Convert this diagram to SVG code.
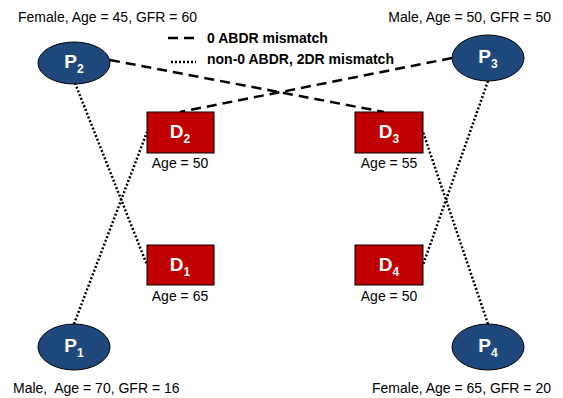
<svg xmlns="http://www.w3.org/2000/svg" width="563" height="398" viewBox="0 0 563 398">
<style>
.pat{fill:#1f497d;stroke:#000;stroke-width:1}
.don{fill:#c00000;stroke:#000;stroke-width:1}
.lbl{font-family:"Liberation Sans",Arial,sans-serif;font-size:19px;font-weight:bold;fill:#fff;text-anchor:middle}
.sub{font-size:12px}
.cap{font-family:"Liberation Sans",Arial,sans-serif;font-size:14px;fill:#000}
.leg{font-family:"Liberation Sans",Arial,sans-serif;font-size:14px;font-weight:bold;fill:#000}
.dash{stroke:#000;stroke-width:2.5;stroke-dasharray:10 6;fill:none}
.dot{stroke:#000;stroke-width:2.5;stroke-dasharray:2 2;fill:none}
</style>
<rect width="563" height="398" fill="#fff"/>
<g id="connectors">
<line class="dash" x1="110" y1="60" x2="384" y2="112"/>
<line class="dash" x1="452" y1="58" x2="180" y2="112"/>
<line class="dot" x1="75" y1="83" x2="147" y2="265"/>
<line class="dot" x1="74" y1="324" x2="147" y2="132"/>
<line class="dot" x1="488" y1="81" x2="423" y2="265"/>
<line class="dot" x1="488" y1="324" x2="423" y2="132"/>
</g>
<g id="legend">
<line class="dash" x1="168" y1="38" x2="194" y2="38"/>
<text class="leg" x="207" y="43">0 ABDR mismatch</text>
<line class="dot" x1="171" y1="62" x2="196" y2="62"/>
<text class="leg" x="207" y="64">non-0 ABDR, 2DR mismatch</text>
</g>
<g id="P2">
<ellipse class="pat" cx="74" cy="63" rx="36" ry="21"/>
<text class="lbl" x="74" y="68">P<tspan class="sub" dy="5">2</tspan></text>
<text class="cap" x="18" y="22">Female, Age = 45, GFR = 60</text>
</g>
<g id="P3">
<ellipse class="pat" cx="488" cy="58" rx="36" ry="23"/>
<text class="lbl" x="488" y="63">P<tspan class="sub" dy="5">3</tspan></text>
<text class="cap" x="551" y="22" text-anchor="end">Male, Age = 50, GFR = 50</text>
</g>
<g id="P1">
<ellipse class="pat" cx="74" cy="347" rx="36" ry="23"/>
<text class="lbl" x="74" y="352">P<tspan class="sub" dy="5">1</tspan></text>
<text class="cap" x="13" y="393" xml:space="preserve">Male,  Age = 70, GFR = 16</text>
</g>
<g id="P4">
<ellipse class="pat" cx="488" cy="347" rx="36" ry="23"/>
<text class="lbl" x="488" y="352">P<tspan class="sub" dy="5">4</tspan></text>
<text class="cap" x="551" y="393" text-anchor="end">Female, Age = 65, GFR = 20</text>
</g>
<g id="D2">
<rect class="don" x="147" y="112" width="67" height="41"/>
<text class="lbl" x="180" y="138">D<tspan class="sub" dy="5">2</tspan></text>
<text class="cap" x="180" y="168" text-anchor="middle">Age = 50</text>
</g>
<g id="D3">
<rect class="don" x="355" y="112" width="68" height="41"/>
<text class="lbl" x="389" y="138">D<tspan class="sub" dy="5">3</tspan></text>
<text class="cap" x="389" y="168" text-anchor="middle">Age = 55</text>
</g>
<g id="D1">
<rect class="don" x="147" y="245" width="67" height="40"/>
<text class="lbl" x="180" y="271">D<tspan class="sub" dy="5">1</tspan></text>
<text class="cap" x="180" y="301" text-anchor="middle">Age = 65</text>
</g>
<g id="D4">
<rect class="don" x="355" y="245" width="68" height="40"/>
<text class="lbl" x="389" y="271">D<tspan class="sub" dy="5">4</tspan></text>
<text class="cap" x="389" y="301" text-anchor="middle">Age = 50</text>
</g>
</svg>
